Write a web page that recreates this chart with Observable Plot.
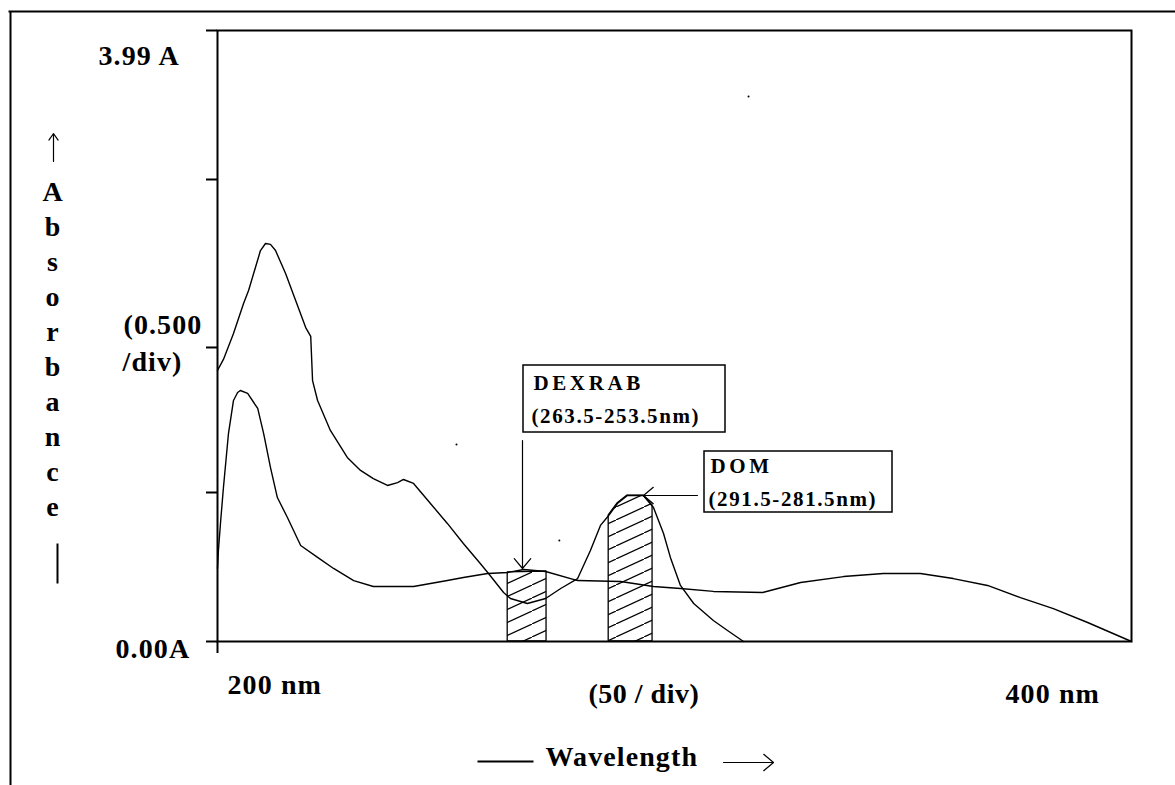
<!DOCTYPE html>
<html><head><meta charset="utf-8">
<script src="https://cdn.jsdelivr.net/npm/d3@7"></script>
<script src="https://cdn.jsdelivr.net/npm/@observablehq/plot@0.6"></script>
<style>
html,body{margin:0;padding:0;background:#fff;}
svg{display:block;}
</style></head><body>
<script>
// ---- data (x: wavelength in nm, y: absorbance in A) ----
const upperNm = [200.0, 201.3, 203.5, 205.7, 206.8, 208.3, 209.4, 210.5, 211.6, 212.7, 214.9, 217.1, 219.3, 220.4, 220.8, 221.9, 224.7, 228.4, 231.3, 234.1, 237.2, 239.4, 240.7, 242.9, 246.6, 250.3, 253.8, 257.5, 259.3, 262.6, 264.1, 267.8, 271.8, 275.1, 278.8, 281.6, 283.8, 285.6, 287.5, 289.7, 293.2, 295.4, 297.6, 299.1, 301.3, 304.2, 308.5, 311.6, 315.1];
const upperAbs = [1.770, 1.842, 2.011, 2.207, 2.292, 2.442, 2.553, 2.599, 2.593, 2.553, 2.403, 2.227, 2.050, 1.992, 1.704, 1.574, 1.378, 1.202, 1.117, 1.064, 1.019, 1.038, 1.058, 1.032, 0.901, 0.771, 0.640, 0.509, 0.444, 0.320, 0.281, 0.248, 0.281, 0.346, 0.411, 0.594, 0.758, 0.823, 0.901, 0.953, 0.953, 0.875, 0.705, 0.549, 0.366, 0.248, 0.137, 0.072, 0.0];
const lowerNm = [200.0, 200.2, 200.7, 201.3, 202.4, 203.5, 204.4, 205.0, 206.6, 208.8, 210.1, 211.6, 213.1, 215.3, 218.2, 221.9, 225.4, 229.8, 234.1, 242.9, 250.3, 253.8, 259.1, 263.5, 267.0, 271.8, 278.8, 288.2, 295.4, 301.3, 308.5, 319.3, 327.6, 337.0, 345.7, 353.8, 361.0, 368.5, 375.7, 382.9, 390.4, 400.0];
const lowerAbs = [0.477, 0.594, 0.790, 1.006, 1.358, 1.574, 1.626, 1.639, 1.620, 1.522, 1.358, 1.136, 0.940, 0.810, 0.627, 0.549, 0.477, 0.398, 0.359, 0.359, 0.398, 0.418, 0.444, 0.451, 0.470, 0.457, 0.398, 0.392, 0.359, 0.346, 0.327, 0.320, 0.385, 0.424, 0.444, 0.444, 0.411, 0.366, 0.287, 0.215, 0.124, 0.0];
const dexrabNm = [263.5, 272.0];
const dexrabAbs = [0.451, 0.457];
const domNm = [285.6, 287.5, 289.7, 293.2, 295.2];
const domAbs = [0.823, 0.901, 0.953, 0.953, 0.888];
const yTicks = [0, 0.973, 1.920, 3.017, 3.99];
const xTicks = [200];
const strayNm = [316.2, 252.3, 274.8];
const strayAbs = [3.559, 1.286, 0.660];
const axisTexts = ["3.99 A", "(0.500", "/div)", "0.00A", "200 nm", "(50 / div)", "400 nm", "Wavelength"];
const yLetters = "Absorbance".split("");
const boxNames = ["DEXRAB", "DOM"];
const boxRanges = ["(263.5-253.5nm)", "(291.5-281.5nm)"];

// ---- tables ----
const toRows = (xs, ys) => xs.map((x, i) => ({x, y: ys[i]}));
const upper = toRows(upperNm, upperAbs);
const lower = toRows(lowerNm, lowerAbs);
const bandDexrab = toRows(dexrabNm, dexrabAbs);
const bandDom = toRows(domNm, domAbs);
const stray = toRows(strayNm, strayAbs);

// ---- layout helpers (page pixel -> data units, for annotations only) ----
const W = 1175, H = 785, L = 217, R = 1131, T = 30, B = 641;
const X = px => 200 + (px - L) * 200 / (R - L);
const Y = py => (B - py) * 3.99 / (B - T);
const axisPos = [[98,64],[123,333],[122,370],[115,657],[227,693],[588,702],[1005,702],[545,765]];
const axisLabelRows = axisTexts.map((t, i) => ({t, x: X(axisPos[i][0]), y: Y(axisPos[i][1])}));
const letterRows = yLetters.map((t, i) => ({t, x: X(52), y: Y(200 + 35 * i)}));
const namePos = [[533,389],[710,472]];
const rangePos = [[531,422],[708,505]];
const nameRows = boxNames.map((t, i) => ({t, x: X(namePos[i][0]), y: Y(namePos[i][1])}));
const rangeRows = boxRanges.map((t, i) => ({t, x: X(rangePos[i][0]), y: Y(rangePos[i][1])}));
const boxRows = [[523,365,725,432],[704,451,892,512]].map(([a,b,c,d]) => ({x1: X(a), y1: Y(d), x2: X(c), y2: Y(b)}));
const arrowRows = [[522,440,522,568],[697,495,643,495],[723,762,773,762]].map(([a,b,c,d]) => ({x1: X(a), y1: Y(b), x2: X(c), y2: Y(d)}));
const upArrowRows = [[53,161,53,133]].map(([a,b,c,d]) => ({x1: X(a), y1: Y(b), x2: X(c), y2: Y(d)}));
const lineRows = [[477,761,533,761],[57,543,57,583],[8,11,W,11],[10,11,10,H]].map(([a,b,c,d]) => ({x1: X(a), y1: Y(b), x2: X(c), y2: Y(d)}));

const serif = "Liberation Serif, Times New Roman, serif";

const hatchDefs = () => {
  const defs = d3.create("svg:defs");
  const p = defs.append("pattern").attr("id", "hatch").attr("patternUnits", "userSpaceOnUse")
    .attr("width", 28).attr("height", 13);
  p.append("rect").attr("width", 28).attr("height", 13).attr("fill", "white");
  p.append("line").attr("x1", -2).attr("y1", 13 + 2 * 13 / 28).attr("x2", 30).attr("y2", -2 * 13 / 28)
    .attr("stroke", "black").attr("stroke-width", 1.2);
  return defs.node();
};

const chart = Plot.plot({
  width: W, height: H,
  marginLeft: L, marginRight: W - R, marginTop: T, marginBottom: H - B,
  x: {domain: [200, 400]},
  y: {domain: [0, 3.99]},
  style: {background: "white", color: "black"},
  marks: [
    hatchDefs,
    Plot.areaY(bandDexrab, {x: "x", y: "y", fill: "url(#hatch)", stroke: "black", strokeWidth: 1.3}),
    Plot.areaY(bandDom, {x: "x", y: "y", fill: "url(#hatch)", stroke: "black", strokeWidth: 1.3}),
    Plot.line(upper, {x: "x", y: "y", stroke: "black", strokeWidth: 1.4}),
    Plot.line(lower, {x: "x", y: "y", stroke: "black", strokeWidth: 1.4}),
    Plot.dot(stray, {x: "x", y: "y", r: 1, fill: "black", stroke: null}),
    Plot.frame({stroke: "black", strokeWidth: 2}),
    Plot.axisY({ticks: yTicks, tickSize: 11, tickFormat: () => "", label: null, strokeWidth: 2}),
    Plot.axisX({ticks: xTicks, tickSize: 12, tickFormat: () => "", label: null, strokeWidth: 2}),
    Plot.rect(boxRows, {x1: "x1", x2: "x2", y1: "y1", y2: "y2", fill: "white", stroke: "black", strokeWidth: 1.5}),
    Plot.arrow(arrowRows, {x1: "x1", y1: "y1", x2: "x2", y2: "y2", stroke: "black", strokeWidth: 1.2, headAngle: 80, headLength: 16}),
    Plot.arrow(upArrowRows, {x1: "x1", y1: "y1", x2: "x2", y2: "y2", stroke: "black", strokeWidth: 1.2, headAngle: 70, headLength: 10}),
    Plot.link(lineRows, {x1: "x1", y1: "y1", x2: "x2", y2: "y2", stroke: "black", strokeWidth: 2}),
    Plot.text(axisLabelRows, {x: "x", y: "y", text: "t", textAnchor: "start", lineAnchor: "bottom", fontSize: 28, fontWeight: "bold", fontFamily: serif, fill: "black"}),
    Plot.text(letterRows, {x: "x", y: "y", text: "t", textAnchor: "middle", lineAnchor: "bottom", fontSize: 28, fontWeight: "bold", fontFamily: serif, fill: "black"}),
    Plot.text(nameRows, {x: "x", y: "y", text: "t", textAnchor: "start", lineAnchor: "bottom", fontSize: 21, fontWeight: "bold", fontFamily: serif, fill: "black"}),
    Plot.text(rangeRows, {x: "x", y: "y", text: "t", textAnchor: "start", lineAnchor: "bottom", fontSize: 21, fontWeight: "bold", fontFamily: serif, fill: "black"})
  ]
});
document.body.appendChild(chart);

// letter spacing to match the reference's wide bitmap type
d3.select(chart).selectAll("text").each(function () {
  const t = this.textContent;
  let ls = null;
  if (t === "(50 / div)") ls = "0.5px";
  else if (axisTexts.includes(t)) ls = "1.1px";
  else if (boxNames.includes(t)) ls = "3.6px";
  else if (boxRanges.includes(t)) ls = "1.6px";
  if (ls) this.setAttribute("letter-spacing", ls);
});
</script>
</body></html>
